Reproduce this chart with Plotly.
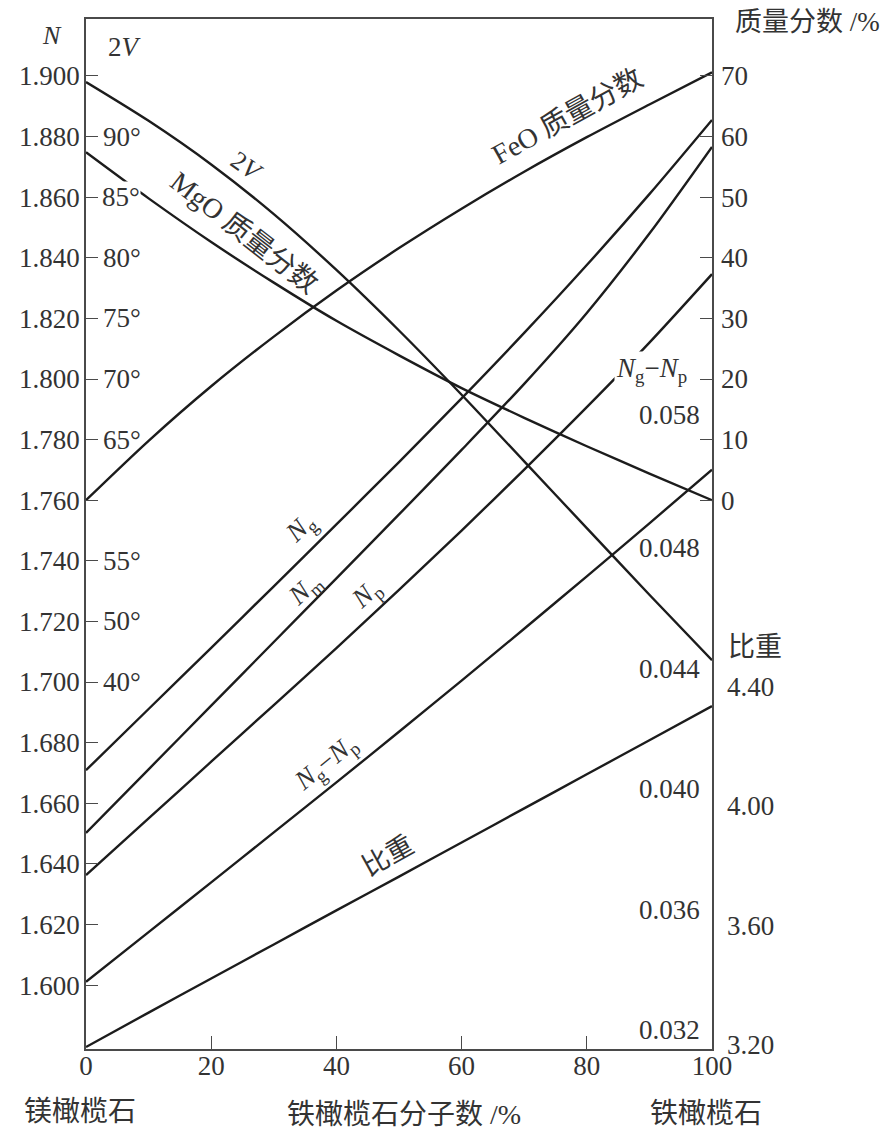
import plotly.graph_objects as go

# ---------------- data ----------------
FA_MOL = [0, 10, 20, 30, 40, 50, 60, 70, 80, 90, 100]          # fayalite mol %
NG = [1.6709, 1.6911, 1.7113, 1.7316, 1.7520, 1.7726, 1.7936, 1.8152, 1.8376, 1.8610, 1.8855]
NM = [1.6502, 1.6712, 1.6922, 1.7132, 1.7342, 1.7553, 1.7766, 1.7984, 1.8218, 1.8480, 1.8766]
NP = [1.6363, 1.6550, 1.6737, 1.6924, 1.7112, 1.7304, 1.7500, 1.7701, 1.7907, 1.8120, 1.8346]
TWO_V = [94.5, 91.3, 87.7, 83.6, 79.0, 74.0, 68.7, 63.2, 57.7, 52.2, 46.8]   # degrees
MGO = [57.4, 49.8, 42.6, 35.9, 29.6, 23.9, 18.5, 13.6, 8.9, 4.4, 0.0]       # mass %
FEO = [0.0, 9.8, 18.8, 27.0, 34.6, 41.6, 48.1, 54.2, 59.9, 65.3, 70.6]      # mass %
NGNP = [0.03360, 0.03525, 0.03690, 0.03856, 0.04022, 0.04190, 0.04360, 0.04532, 0.04706, 0.04882, 0.05060]
SG = [3.193, 3.308, 3.422, 3.536, 3.650, 3.763, 3.877, 3.991, 4.105, 4.219, 4.333]

X_TICKS = [0, 20, 40, 60, 80, 100]
N_TICKS = [1.600, 1.620, 1.640, 1.660, 1.680, 1.700, 1.720, 1.740, 1.760,
           1.780, 1.800, 1.820, 1.840, 1.860, 1.880, 1.900]
DEG_TICKS = [90, 85, 80, 75, 70, 65, 55, 50, 45]
DEG_TEXT = ["90°", "85°", "80°", "75°", "70°", "65°", "55°", "50°", "40°"]
MASS_TICKS = [0, 10, 20, 30, 40, 50, 60, 70]
NGNP_TICKS = [0.032, 0.036, 0.040, 0.044, 0.048, 0.0524]
NGNP_TEXT = ["0.032", "0.036", "0.040", "0.044", "0.048", "0.058"]
SG_TICKS = [3.20, 3.60, 4.00, 4.40]

# ---------------- geometry / scales ----------------
W, H = 891, 1131
L, R, T, B = 86, 712, 19, 1049
N_RANGE = [1.5789, 1.9188]
MASS_RANGE = [(n - 1.760) / 0.002 for n in N_RANGE]        # 0 % at N=1.760, 10 % per 0.020
DEG_RANGE = [90 - (1.880 - n) * 250 for n in N_RANGE]      # 90° at N=1.880, 5° per 0.020
NGNP_RANGE = [0.03137, 0.06556]
SG_RANGE = [3.1863, 6.6311]

SERIF = "Liberation Serif, Noto Sans CJK SC, serif"
INK = "#1c1c1c"
TXT = "#333333"
AX = "#4a4a4a"
LW = 2.4
FS = 27


def pp(px, py):
    return (px - L) / (R - L), (B - py) / (B - T)


def xp(px):
    return (px - L) / (R - L)


fig = go.Figure()


def add(y, axis, name):
    fig.add_trace(go.Scatter(x=FA_MOL, y=y, yaxis=axis, mode="lines", name=name,
                             line=dict(color=INK, width=LW, shape="spline", smoothing=0.8),
                             showlegend=False, hoverinfo="skip"))


add(NG, "y", "Ng")
add(NM, "y", "Nm")
add(NP, "y", "Np")
add(TWO_V, "y4", "2V")
add(MGO, "y2", "MgO")
add(FEO, "y2", "FeO")
add(NGNP, "y3", "Ng-Np")
add(SG, "y5", "SG")

common = dict(showgrid=False, zeroline=False, tickfont=dict(family=SERIF, size=FS, color=TXT))

fig.update_layout(
    width=W, height=H,
    margin=dict(l=L, r=W - R, t=T, b=H - B),
    paper_bgcolor="white", plot_bgcolor="white",
    font=dict(family=SERIF, size=FS, color=TXT),
    xaxis=dict(range=[0, 100], tickvals=X_TICKS, ticks="inside", ticklen=13, tickcolor=AX,
               tickwidth=1.4, showline=True, mirror=True, linecolor=AX, linewidth=1.6,
               ticklabelstandoff=-8, **common),
    yaxis=dict(range=N_RANGE, tickvals=N_TICKS, tickformat=".3f", ticks="inside", ticklen=12,
               tickcolor=AX, tickwidth=1.4, showline=True, mirror=True, linecolor=AX,
               linewidth=1.6, ticklabelstandoff=-1, **common),
    yaxis2=dict(overlaying="y", side="right", anchor="x", range=MASS_RANGE, tickvals=MASS_TICKS,
                ticks="inside", ticklen=12, tickcolor=AX, tickwidth=1.4, showline=False,
                ticklabelstandoff=8, **common),
    yaxis3=dict(overlaying="y", side="right", anchor="x", range=NGNP_RANGE,
                showticklabels=False, ticks="", showline=False, **common),
    yaxis4=dict(overlaying="y", side="left", anchor="x", range=DEG_RANGE,
                showticklabels=False, ticks="", showline=False, **common),
    yaxis5=dict(overlaying="y", side="right", anchor="x", range=SG_RANGE, tickvals=SG_TICKS,
                tickformat=".2f", ticks="", showline=False, ticklabelstandoff=14, **common),
)

# 2V degree scale labels (inside, left) and Ng-Np scale labels (inside, right)
for v, t in zip(DEG_TICKS, DEG_TEXT):
    a = dict(text=t, x=xp(101), y=v, xref="paper", yref="y4", showarrow=False,
             xanchor="left", yanchor="middle", font=dict(family=SERIF, size=FS, color=TXT))
    if v == 85:  # this label interrupts the MgO curve in the reference
        a.update(bgcolor="white", borderpad=0)
    fig.add_annotation(**a)
for v, t in zip(NGNP_TICKS, NGNP_TEXT):
    fig.add_annotation(text=t, x=xp(702), y=v, xref="paper", yref="y3", showarrow=False,
                       xanchor="right", yanchor="middle",
                       font=dict(family=SERIF, size=FS, color=TXT))

ANN = [
    ("<i>N</i>", 52, 35, 0, 26, None),
    ("2<i>V</i>", 125, 47, 0, 27, None),
    ("2<i>V</i>", 247, 166, 35, 26, None),
    ("MgO 质量分数", 244, 233, 38, 28, None),
    ("FeO 质量分数", 567, 117, -29, 28, None),
    ("<i>N</i><sub>g</sub>", 301, 529, -44, 27, None),
    ("<i>N</i><sub>m</sub>", 306, 590, -42, 27, None),
    ("<i>N</i><sub>p</sub>", 367, 595, -42, 27, None),
    ("<i>N</i><sub>g</sub>−<i>N</i><sub>p</sub>", 326, 764, -39, 27, None),
    ("比重", 388, 856, -29, 27, None),
    ("<i>N</i><sub>g</sub>−<i>N</i><sub>p</sub>", 651, 370, 0, 27, "white"),
    ("质量分数 /%", 807, 22, 0, 27, None),
    ("比重", 755, 647, 0, 27, None),
    ("镁橄榄石", 80, 1111, 0, 28, None),
    ("铁橄榄石分子数 /%", 404, 1114, 0, 28, None),
    ("铁橄榄石", 706, 1113, 0, 28, None),
]
for text, px, py, ang, size, bg in ANN:
    ax_, ay_ = pp(px, py)
    a = dict(text=text, x=ax_, y=ay_, xref="paper", yref="paper", showarrow=False,
             textangle=ang, xanchor="center", yanchor="middle",
             font=dict(family=SERIF, size=size, color=TXT))
    if bg:
        a["bgcolor"] = bg
    fig.add_annotation(**a)

fig.write_html("out.html", config={"displayModeBar": False},
               post_script="document.body.style.margin='0px';document.body.style.padding='0px';")
